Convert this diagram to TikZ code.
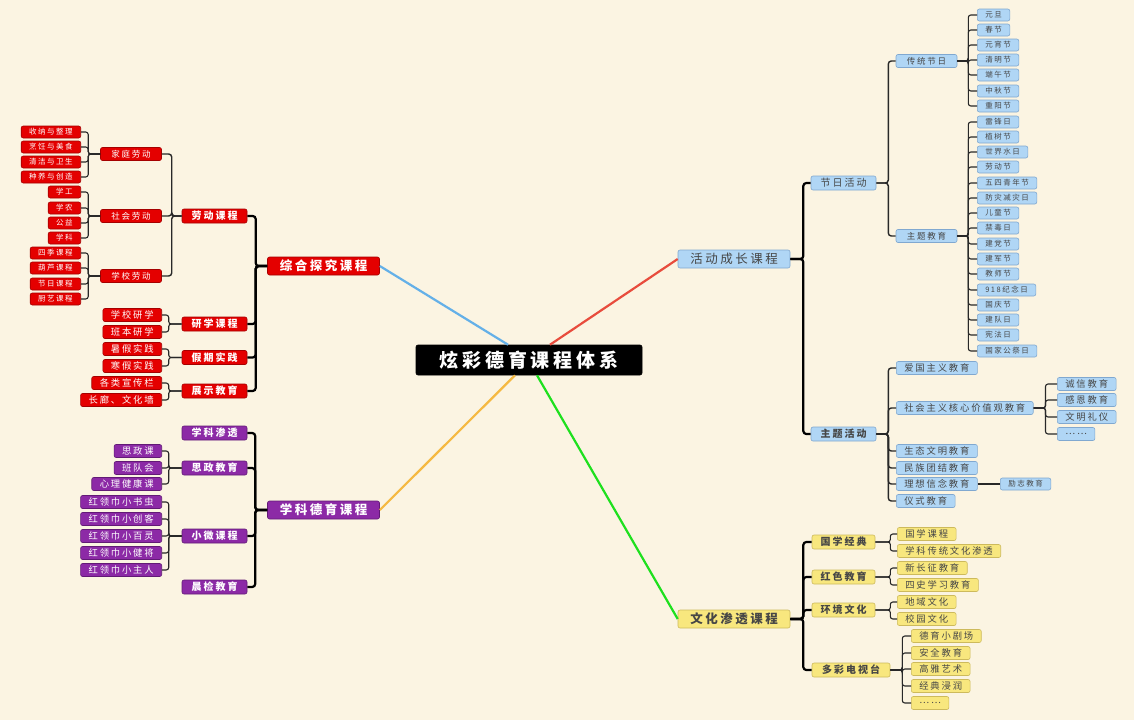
\documentclass[tikz,border=0pt]{standalone}
\usepackage{fontspec}
\newfontfamily\cjk[LetterSpace=20]{Noto Sans CJK SC}
\usetikzlibrary{calc}
\definecolor{bg}{RGB}{251,244,226}
\definecolor{rf}{RGB}{228,0,0}
\definecolor{rd}{RGB}{165,0,0}
\definecolor{pf}{RGB}{140,42,166}
\definecolor{pd}{RGB}{98,26,118}
\definecolor{bf}{RGB}{176,214,245}
\definecolor{bd}{RGB}{128,168,208}
\definecolor{yf}{RGB}{248,231,126}
\definecolor{yd}{RGB}{205,186,92}
\definecolor{tg}{RGB}{70,70,70}
\definecolor{lk}{RGB}{40,40,40}
\definecolor{sblue}{RGB}{100,176,232}
\definecolor{sred}{RGB}{232,76,61}
\definecolor{sorange}{RGB}{245,185,66}
\definecolor{sgreen}{RGB}{30,224,30}
\newcommand\fsz[1]{\fontsize{#1}{#1}\selectfont}
\tikzset{
 base/.style={rounded corners=2pt, inner ysep=0pt, inner xsep=8pt, line width=0.6pt},
 cR/.style={fill=rf, draw=rd, text=white},
 cP/.style={fill=pf, draw=pd, text=white},
 cB/.style={fill=bf, draw=bd, text=tg},
 cY/.style={fill=yf, draw=yd, text=tg},
 rootn/.style={base, fill=black, draw=black, text=white, minimum width=226pt, minimum height=30pt, font=\cjk\fsz{19}\bfseries},
 Lone/.style={base, minimum width=112pt, minimum height=18pt, font=\cjk\fsz{12.5}\bfseries},
 Ltwo/.style={base, minimum width=65pt, minimum height=14pt, font=\cjk\fsz{10}\bfseries},
 Lthree/.style={base, minimum width=61pt, minimum height=13pt, font=\cjk\fsz{8.5}},
 lfS/.style={base, minimum height=12pt, font=\cjk\fsz{7.5}},
 lfL/.style={base, minimum height=13pt, font=\cjk\fsz{9.3}},
 barA/.style={line width=2.2pt, draw=black, rounded corners=3pt},
 barB/.style={line width=1.4pt, draw=lk, rounded corners=3pt},
 barC/.style={line width=1.1pt, draw=lk, rounded corners=2.5pt},
 spoke/.style={line width=2.2pt},
}
\begin{document}
\begin{tikzpicture}[x=1pt,y=-1pt]
\fill[bg] (0,0) rectangle (1134,720);
\useasboundingbox (0,0) rectangle (1134,720);

% root and main branches
\node[rootn] (root) at (529,360) {炫彩德育课程体系};
\node[Lone,cR] (zh) at (323.5,266) {综合探究课程};
\node[Lone,cP] (xk) at (323.5,510) {学科德育课程};
\node[Lone,cB,font=\cjk\fsz{12.5}] (hd) at (734,259) {活动成长课程};
\node[Lone,cY] (wh) at (734,619) {文化渗透课程};

\draw[spoke,sblue] (zh.east) -- ($(root.north)+(-21,0)$);
\draw[spoke,sred] (hd.west) -- ($(root.north)+(21,0)$);
\draw[spoke,sorange] (xk.east) -- ($(root.south)+(-14,0)$);
\draw[spoke,sgreen] (wh.west) -- ($(root.south)+(8,0)$);

% ===== red branch =====
\node[Ltwo,cR] (ld) at (214.5,216) {劳动课程};
\node[Ltwo,cR] (yx) at (214.5,324) {研学课程};
\node[Ltwo,cR] (jq) at (214.5,357.5) {假期实践};
\node[Ltwo,cR] (zs) at (214.5,391) {展示教育};
\foreach \c in {ld,yx,jq,zs} \draw[barA] (zh.west) -- ++(-11.5,0) |- (\c.east);

\node[Lthree,cR] (jt) at (131,154) {家庭劳动};
\node[Lthree,cR] (sh) at (131,216) {社会劳动};
\node[Lthree,cR] (xx) at (131,276) {学校劳动};
\foreach \c in {jt,sh,xx} \draw[barB] (ld.west) -- ++(-10,0) |- (\c.east);

\node[lfS,cR,anchor=east] (r1) at (81,132) {收纳与整理};
\node[lfS,cR,anchor=east] (r2) at (81,147) {烹饪与美食};
\node[lfS,cR,anchor=east] (r3) at (81,162) {清洁与卫生};
\node[lfS,cR,anchor=east] (r4) at (81,177) {种养与创造};
\foreach \c in {r1,r2,r3,r4} \draw[barC] (jt.west) -- ++(-12,0) |- (\c.east);
\node[lfS,cR,anchor=east] (r5) at (81,192) {学工};
\node[lfS,cR,anchor=east] (r6) at (81,208) {学农};
\node[lfS,cR,anchor=east] (r7) at (81,223) {公益};
\node[lfS,cR,anchor=east] (r8) at (81,238) {学科};
\foreach \c in {r5,r6,r7,r8} \draw[barC] (sh.west) -- ++(-12,0) |- (\c.east);
\node[lfS,cR,anchor=east] (r9) at (81,253) {四季课程};
\node[lfS,cR,anchor=east] (r10) at (81,268) {葫芦课程};
\node[lfS,cR,anchor=east] (r11) at (81,284) {节日课程};
\node[lfS,cR,anchor=east] (r12) at (81,299) {厨艺课程};
\foreach \c in {r9,r10,r11,r12} \draw[barC] (xx.west) -- ++(-12,0) |- (\c.east);

\node[lfL,cR,anchor=east] (r13) at (162,315) {学校研学};
\node[lfL,cR,anchor=east] (r14) at (162,332) {班本研学};
\foreach \c in {r13,r14} \draw[barC] (yx.west) -- ++(-13,0) |- (\c.east);
\node[lfL,cR,anchor=east] (r15) at (162,349) {暑假实践};
\node[lfL,cR,anchor=east] (r16) at (162,366) {寒假实践};
\foreach \c in {r15,r16} \draw[barC] (jq.west) -- ++(-13,0) |- (\c.east);
\node[lfL,cR,anchor=east] (r17) at (162,383) {各类宣传栏};
\node[lfL,cR,anchor=east] (r18) at (162,400) {长廊、文化墙};
\foreach \c in {r17,r18} \draw[barC] (zs.west) -- ++(-13,0) |- (\c.east);

% ===== purple branch =====
\node[Ltwo,cP] (kst) at (214.5,433) {学科渗透};
\node[Ltwo,cP] (szj) at (214.5,468) {思政教育};
\node[Ltwo,cP] (xwk) at (214.5,536) {小微课程};
\node[Ltwo,cP] (cjj) at (214.5,587) {晨检教育};
\foreach \c in {kst,szj,xwk,cjj} \draw[barA] (xk.west) -- ++(-12,0) |- (\c.east);

\node[lfL,cP,anchor=east] (p1) at (162,451) {思政课};
\node[lfL,cP,anchor=east] (p2) at (162,468) {班队会};
\node[lfL,cP,anchor=east] (p3) at (162,484) {心理健康课};
\foreach \c in {p1,p2,p3} \draw[barC] (szj.west) -- ++(-13,0) |- (\c.east);
\node[lfL,cP,anchor=east] (p4) at (162,502) {红领巾小书虫};
\node[lfL,cP,anchor=east] (p5) at (162,519) {红领巾小创客};
\node[lfL,cP,anchor=east] (p6) at (162,536) {红领巾小百灵};
\node[lfL,cP,anchor=east] (p7) at (162,553) {红领巾小健将};
\node[lfL,cP,anchor=east] (p8) at (162,570) {红领巾小主人};
\foreach \c in {p4,p5,p6,p7,p8} \draw[barC] (xwk.west) -- ++(-13,0) |- (\c.east);

% ===== blue branch =====
\node[Ltwo,cB,font=\cjk\fsz{10}] (jr) at (843.5,183) {节日活动};
\node[Ltwo,cB] (zt) at (843.5,434) {主题活动};
\foreach \c in {jr,zt} \draw[barA] (hd.east) -- ++(13,0) |- (\c.west);

\node[Lthree,cB] (ct) at (926.5,61) {传统节日};
\node[Lthree,cB] (zj) at (926.5,236) {主题教育};
\foreach \c in {ct,zj} \draw[barB] (jr.east) -- ++(12,0) |- (\c.west);

\node[lfS,cB,anchor=west] (b1) at (977,15) {元旦};
\node[lfS,cB,anchor=west] (b2) at (977,30) {春节};
\node[lfS,cB,anchor=west] (b3) at (977,45) {元宵节};
\node[lfS,cB,anchor=west] (b4) at (977,60) {清明节};
\node[lfS,cB,anchor=west] (b5) at (977,75) {端午节};
\node[lfS,cB,anchor=west] (b6) at (977,91) {中秋节};
\node[lfS,cB,anchor=west] (b7) at (977,106) {重阳节};
\foreach \c in {b1,b2,b3,b4,b5,b6,b7} \draw[barC] (ct.east) -- ++(11,0) |- (\c.west);

\node[lfS,cB,anchor=west] (t1) at (977,122) {雷锋日};
\node[lfS,cB,anchor=west] (t2) at (977,137) {植树节};
\node[lfS,cB,anchor=west] (t3) at (977,152) {世界水日};
\node[lfS,cB,anchor=west] (t4) at (977,167) {劳动节};
\node[lfS,cB,anchor=west] (t5) at (977,183) {五四青年节};
\node[lfS,cB,anchor=west] (t6) at (977,198) {防灾减灾日};
\node[lfS,cB,anchor=west] (t7) at (977,213) {儿童节};
\node[lfS,cB,anchor=west] (t8) at (977,228) {禁毒日};
\node[lfS,cB,anchor=west] (t9) at (977,244) {建党节};
\node[lfS,cB,anchor=west] (t10) at (977,259) {建军节};
\node[lfS,cB,anchor=west] (t11) at (977,274) {教师节};
\node[lfS,cB,anchor=west] (t12) at (977,290) {918纪念日};
\node[lfS,cB,anchor=west] (t13) at (977,305) {国庆节};
\node[lfS,cB,anchor=west] (t14) at (977,320) {建队日};
\node[lfS,cB,anchor=west] (t15) at (977,335) {宪法日};
\node[lfS,cB,anchor=west] (t16) at (977,351) {国家公祭日};
\foreach \c in {t1,t2,t3,t4,t5,t6,t7,t8,t9,t10,t11,t12,t13,t14,t15,t16} \draw[barC] (zj.east) -- ++(11,0) |- (\c.west);

\node[lfL,cB,anchor=west] (m1) at (896,368) {爱国主义教育};
\node[lfL,cB,anchor=west] (m2) at (896,408) {社会主义核心价值观教育};
\node[lfL,cB,anchor=west] (m3) at (896,451) {生态文明教育};
\node[lfL,cB,anchor=west] (m4) at (896,468) {民族团结教育};
\node[lfL,cB,anchor=west] (m5) at (896,484) {理想信念教育};
\node[lfL,cB,anchor=west] (m6) at (896,501) {仪式教育};
\foreach \c in {m1,m2,m3,m4,m5,m6} \draw[barB] (zt.east) -- ++(12,0) |- (\c.west);

\node[lfL,cB,anchor=west] (s1) at (1057,384) {诚信教育};
\node[lfL,cB,anchor=west] (s2) at (1057,400) {感恩教育};
\node[lfL,cB,anchor=west] (s3) at (1057,417) {文明礼仪};
\node[lfL,cB,anchor=west] (s4) at (1057,434) {……};
\foreach \c in {s1,s2,s3,s4} \draw[barC] (m2.east) -- ++(12,0) |- (\c.west);

\node[lfS,cB,anchor=west] (lz) at (1000,484) {励志教育};
\draw[barC] (m5.east) -- (lz.west);

% ===== yellow branch =====
\node[Ltwo,cY,minimum width=63pt] (gx) at (843.5,542) {国学经典};
\node[Ltwo,cY,minimum width=63pt] (hs) at (843.5,577) {红色教育};
\node[Ltwo,cY,minimum width=63pt] (hj) at (843.5,610) {环境文化};
\node[Ltwo,cY,minimum width=78pt] (dc) at (851,670) {多彩电视台};
\foreach \c in {gx,hs,hj,dc} \draw[barA] (wh.east) -- ++(13,0) |- (\c.west);

\node[lfL,cY,anchor=west] (y1) at (897,534) {国学课程};
\node[lfL,cY,anchor=west] (y2) at (897,551) {学科传统文化渗透};
\foreach \c in {y1,y2} \draw[barC] (gx.east) -- ++(15,0) |- (\c.west);
\node[lfL,cY,anchor=west] (y3) at (897,568) {新长征教育};
\node[lfL,cY,anchor=west] (y4) at (897,585) {四史学习教育};
\foreach \c in {y3,y4} \draw[barC] (hs.east) -- ++(15,0) |- (\c.west);
\node[lfL,cY,anchor=west] (y5) at (897,602) {地域文化};
\node[lfL,cY,anchor=west] (y6) at (897,619) {校园文化};
\foreach \c in {y5,y6} \draw[barC] (hj.east) -- ++(15,0) |- (\c.west);
\node[lfL,cY,anchor=west] (y7) at (911,636) {德育小剧场};
\node[lfL,cY,anchor=west] (y8) at (911,653) {安全教育};
\node[lfL,cY,anchor=west] (y9) at (911,669) {高雅艺术};
\node[lfL,cY,anchor=west] (y10) at (911,686) {经典浸润};
\node[lfL,cY,anchor=west] (y11) at (911,703) {……};
\foreach \c in {y7,y8,y9,y10,y11} \draw[barC] (dc.east) -- ++(12,0) |- (\c.west);
\end{tikzpicture}
\end{document}
